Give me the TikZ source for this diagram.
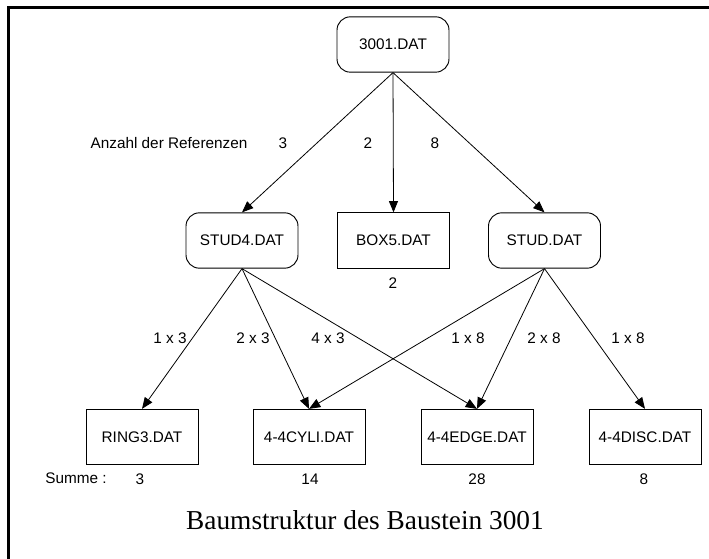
\documentclass[tikz,border=0pt]{standalone}
\usepackage{fontspec}
\setmainfont{Liberation Sans}
\newfontfamily\capfont{Liberation Serif}
\usetikzlibrary{arrows.meta}
\tikzset{
  flow/.style={-{Triangle[length=8.5pt,width=6.8pt]},line width=0.6pt},
  card/.style={draw,line width=0.7pt,rounded corners=10pt,minimum width=84pt,
               minimum height=41.5pt,inner sep=0pt,font=\fontsize{11.5}{13}\selectfont},
  file/.style={card,sharp corners},
  label/.style={font=\fontsize{11.5}{13}\selectfont,inner sep=0pt},
  frame/.style={line width=1.6pt},
  caption/.style={font=\capfont\fontsize{20.5}{24}\selectfont,inner sep=0pt},
}

\begin{document}
\begin{tikzpicture}[x=0.75pt,y=-0.75pt]
    \useasboundingbox (0,0) rectangle (709,559);
    \draw[frame] (8.5,559) -- (8.5,7.5) -- (709,7.5);

    \node[card] (top) at (393,44.5) {3001.DAT};

    \node[card] (stud4) at (242,240.5) {STUD4.DAT};
    \node[file] (box5) at (393.5,240.5) {BOX5.DAT};
    \node[card] (stud) at (544.5,240.5) {STUD.DAT};

    \node[file] (ring) at (142,437) {RING3.DAT};
    \node[file] (cyli) at (309,437) {4-4CYLI.DAT};
    \node[file] (edge) at (477,437) {4-4EDGE.DAT};
    \node[file] (disc) at (645,437) {4-4DISC.DAT};

    \draw[flow] (top.south) -- (stud4.north);
    \draw[flow] (top.south) -- (box5.north);
    \draw[flow] (top.south) -- (stud.north);

    \draw[flow] (stud4.south) -- (ring.north);
    \draw[flow] (stud4.south) -- (cyli.north);
    \draw[flow] (stud4.south) -- (edge.north);
    \draw[flow] (stud.south) -- (cyli.north);
    \draw[flow] (stud.south) -- (edge.north);
    \draw[flow] (stud.south) -- (disc.north);

    \node[label] (refs) at (169,143) {Anzahl der Referenzen};
    \node[label] (nstud4) at (283,143) {3};
    \node[label] (nbox5) at (368,143) {2};
    \node[label] (nstud) at (435,143) {8};
    \node[label] (sbox5) at (393,283) {2};

    \node[label] (rring) at (170,338) {1 x 3};
    \node[label] (rcyli4) at (253,338) {2 x 3};
    \node[label] (redge4) at (328,338) {4 x 3};
    \node[label] (rcyli) at (468,338) {1 x 8};
    \node[label] (redge) at (544,338) {2 x 8};
    \node[label] (rdisc) at (628,338) {1 x 8};

    \node[label] (summe) at (76,478) {Summe :};
    \node[label] (sring) at (140,479) {3};
    \node[label] (scyli) at (310,479) {14};
    \node[label] (sedge) at (477,479) {28};
    \node[label] (sdisc) at (644,479) {8};

    \node[caption] (title) at (365,520) {Baumstruktur des Baustein 3001};
  \end{tikzpicture}
\end{document}
